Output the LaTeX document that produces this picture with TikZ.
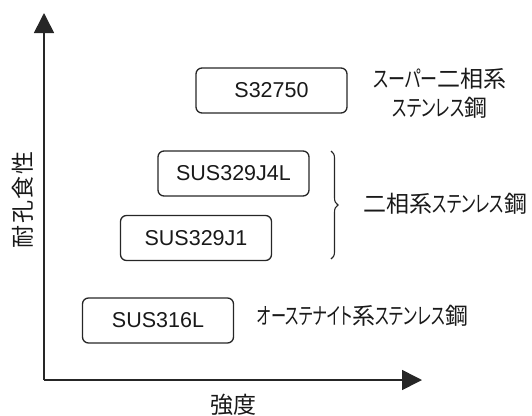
\documentclass[tikz,border=0pt]{standalone}
\usepackage{fontspec}
\usepackage{graphicx}
\setmainfont{Liberation Sans}
\newfontfamily\jp[RawFeature=+palt]{Noto Sans CJK JP}
\newfontfamily\jpfull{Noto Sans CJK JP}
\newfontfamily\jpwide[LetterSpace=7]{Noto Sans CJK JP}
\newcommand\kana[2][0.7]{\scalebox{#1}[1]{#2}}
\usetikzlibrary{arrows.meta,decorations.pathreplacing}
\begin{document}
\begin{tikzpicture}[x=1pt,y=-1pt,
  grade/.style={draw=black!85,line width=1.3pt,rounded corners=6pt,minimum width=151pt,minimum height=45pt,inner sep=0pt,font=\fontsize{21.5}{24}\selectfont,text=black!90},
  lbl/.style={inner sep=0pt,font=\jp\fontsize{23}{25}\selectfont,text=black!90},
  axislbl/.style={inner sep=0pt,font=\jpfull\fontsize{23}{25}\selectfont,text=black!90},
  axis/.style={draw=black!85,line width=1.6pt,-{Triangle[length=20pt,width=20pt]}}]
\useasboundingbox (0,0) rectangle (532,415);
\coordinate (O) at (44,380);
\coordinate (Ytop) at (44,13);
\coordinate (Xend) at (422,380);
\draw[axis] (O) -- (Ytop);
\draw[axis] (O) -- (Xend);
\node[grade] (b1) at (271.5,90.5) {S32750};
\node[grade] (b2) at (233.5,173.5) {SUS329J4L};
\node[grade] (b3) at (196,238) {SUS329J1};
\node[grade] (b4) at (158,320.5) {SUS316L};
\coordinate (brT) at (331,151);
\coordinate (brB) at (331,259);
\draw[black!85,line width=1.1pt,decorate,decoration={brace,amplitude=7pt}] (brT) -- (brB);
\node[lbl] (l1a) at (440,79) {\kana[0.74]{スーパー}二相系};
\node[lbl] (l1b) at (440,108) {\kana{ステンレス}鋼};
\node[lbl,anchor=west] (l2) at (363,204) {二相系\kana{ステンレス}鋼};
\node[lbl,anchor=west] (l3) at (257,316) {\kana[0.66]{オーステナイト}系\kana[0.68]{ステンレス}鋼};
\node[axislbl] (xl) at (233,405) {強度};
\node[axislbl,font=\jpwide\fontsize{23}{25}\selectfont,rotate=90] (yl) at (23,200) {耐孔食性};
\end{tikzpicture}
\end{document}
